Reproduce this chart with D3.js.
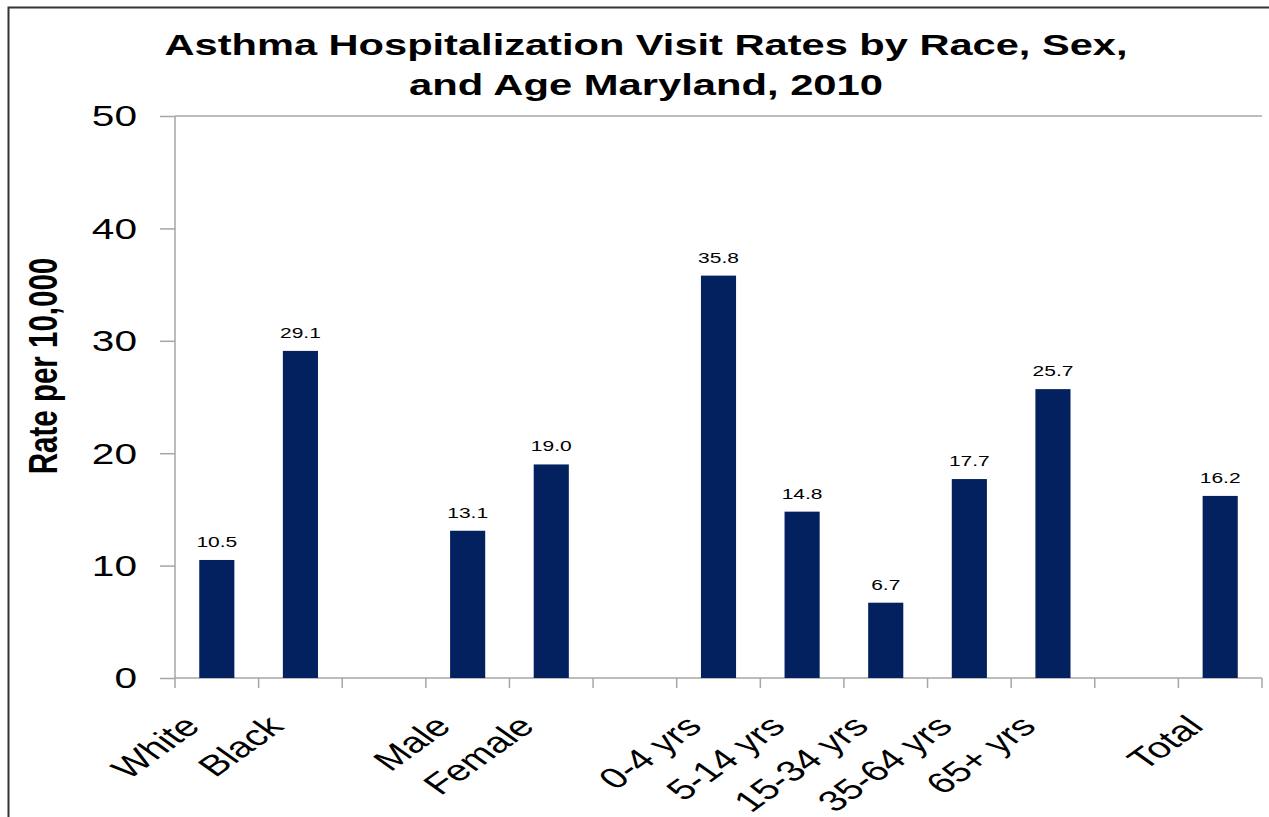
<!DOCTYPE html>
<html>
<head>
<meta charset="utf-8">
<script src="https://cdn.jsdelivr.net/npm/d3@7"></script>
<style>
body { margin: 0; background: #fff; }
text { font-family: "Liberation Sans", Arial, sans-serif; }
</style>
</head>
<body>
<div id="my_viz"></div>
<script>
// categories, "gap" entries are empty spacer slots
const categories = ["White", "Black", "gap1", "Male", "Female", "gap2", "0-4 yrs", "5-14 yrs", "15-34 yrs", "35-64 yrs", "65+ yrs", "gap3", "Total"]
const rates = [10.5, 29.1, null, 13.1, 19.0, null, 35.8, 14.8, 6.7, 17.7, 25.7, null, 16.2]
const y_ticks = [0, 10, 20, 30, 40, 50]
const title_lines = ["Asthma Hospitalization Visit Rates by Race, Sex,", "and Age Maryland, 2010"]

const width = 1269
const height = 817
const margin = {top: 116, right: 7, bottom: 139, left: 175}
const bounded = {
  width: width - margin.left - margin.right,
  height: height - margin.top - margin.bottom
}
// the original picture is stretched horizontally
const stretch = 1.4

var svg = d3.select("#my_viz")
  .append("svg")
  .attr("width", width)
  .attr("height", height)

// outer frame (top and left edges visible)
svg.append("path")
  .attr("d", "M8.5,817 L8.5,7.5 L1269,7.5")
  .attr("fill", "none")
  .attr("stroke", "#333")
  .attr("stroke-width", 2)

var group = svg.append("g")
  .attr("transform", "translate(" + margin.left + "," + margin.top + ")")

var xScale = d3.scaleBand()
  .domain(categories)
  .range([0, bounded.width])
  .paddingInner(0.58)
  .paddingOuter(0.29)

var xSlot = d3.scaleBand()
  .domain(categories)
  .range([0, bounded.width])

var yScale = d3.scaleLinear()
  .domain([0, 50])
  .range([bounded.height, 0])

// top gridline at 50
group.append("line")
  .attr("x1", 0).attr("x2", bounded.width)
  .attr("y1", yScale(50)).attr("y2", yScale(50))
  .attr("stroke", "#a6a6a6").attr("stroke-width", 1.5)

// Y axis
var yAxisG = group.append("g")
  .call(d3.axisLeft(yScale).tickValues(y_ticks).tickSize(15).tickFormat(""))
yAxisG.selectAll("line, path").attr("stroke", "#a6a6a6").attr("stroke-width", 1.5)
yAxisG.select(".domain").attr("d", "M0," + bounded.height + "V0")
group.selectAll(".ylabel")
  .data(y_ticks)
  .enter()
  .append("text")
  .attr("class", "ylabel")
  .attr("text-anchor", "end")
  .attr("dy", "0.36em")
  .attr("transform", d => "translate(-38," + yScale(d) + ") scale(" + stretch + ",1)")
  .style("font-size", "29px")
  .attr("fill", "#000")
  .text(d => d)

// X axis line and slot tick marks
var xAxisG = group.append("g")
  .attr("transform", "translate(0," + bounded.height + ")")
xAxisG.append("line")
  .attr("x1", 0).attr("x2", bounded.width)
  .attr("stroke", "#a6a6a6").attr("stroke-width", 1.5)
var tickPos = categories.map(c => xSlot(c)).concat([bounded.width])
xAxisG.selectAll(".xtick")
  .data(tickPos)
  .enter()
  .append("line")
  .attr("class", "xtick")
  .attr("x1", d => d).attr("x2", d => d)
  .attr("y1", 0).attr("y2", 10)
  .attr("stroke", "#a6a6a6").attr("stroke-width", 1.5)

var labelled = categories.filter(c => !c.startsWith("gap"))
xAxisG.selectAll(".xlabel")
  .data(labelled)
  .enter()
  .append("text")
  .attr("class", "xlabel")
  .attr("text-anchor", "end")
  .attr("transform", d => "translate(" + (xSlot(d) + xSlot.bandwidth() / 2 - 15) + ",50) scale(" + stretch + ",1) rotate(-45)")
  .style("font-size", "29px")
  .attr("fill", "#000")
  .text(d => d)

// bars
var barData = categories.map((c, i) => ({cat: c, value: rates[i]})).filter(d => d.value !== null)
group.selectAll(".bar")
  .data(barData)
  .enter()
  .append("rect")
  .attr("class", "bar")
  .attr("x", d => xScale(d.cat))
  .attr("width", xScale.bandwidth())
  .attr("y", d => yScale(d.value))
  .attr("height", d => bounded.height - yScale(d.value))
  .attr("fill", "#03215f")

group.selectAll(".val")
  .data(barData)
  .enter()
  .append("text")
  .attr("class", "val")
  .attr("text-anchor", "middle")
  .attr("transform", d => "translate(" + (xScale(d.cat) + xScale.bandwidth() / 2) + "," + (yScale(d.value) - 13) + ") scale(" + stretch + ",1)")
  .style("font-size", "15px")
  .attr("fill", "#000")
  .text(d => d.value.toFixed(1))

// title
var title_widths = [963, 474]
svg.append("text")
  .attr("text-anchor", "middle")
  .style("font-size", "30px")
  .style("font-weight", "bold")
  .selectAll("tspan")
  .data(title_lines)
  .enter()
  .append("tspan")
  .attr("x", 646)
  .attr("y", (d, i) => 55 + i * 40)
  .attr("textLength", (d, i) => title_widths[i])
  .attr("lengthAdjust", "spacingAndGlyphs")
  .text(d => d)

// Y axis title
svg.append("text")
  .attr("text-anchor", "middle")
  .attr("transform", "translate(57,366) scale(" + stretch + ",1) rotate(-90)")
  .style("font-size", "29.5px")
  .style("font-weight", "bold")
  .text("Rate per 10,000")
</script>
</body>
</html>
